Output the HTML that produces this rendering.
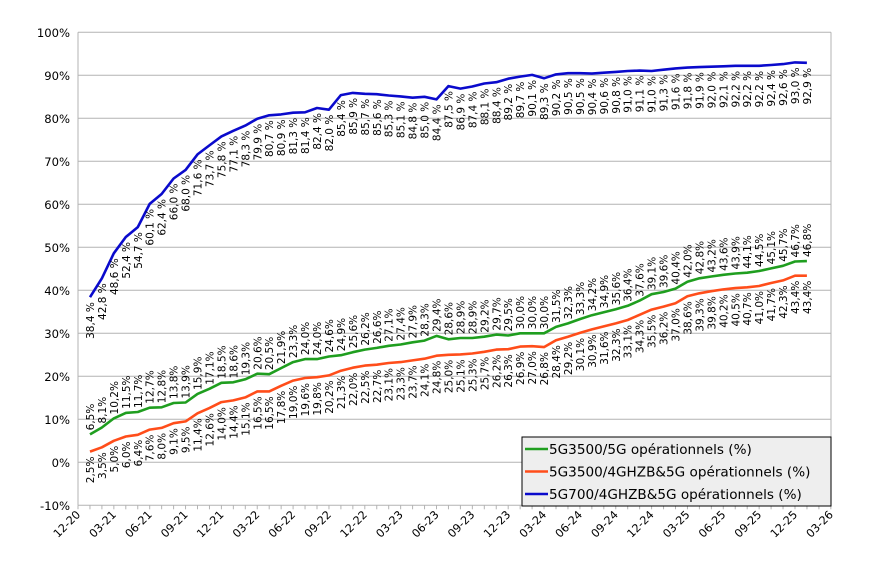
<!DOCTYPE html>
<html><head><meta charset="utf-8">
<style>html,body{margin:0;padding:0;background:#fff}svg{display:block}text{font-family:"DejaVu Sans","Liberation Sans",sans-serif}</style>
</head><body>
<svg id="c" width="874" height="572" xmlns="http://www.w3.org/2000/svg"></svg>
<script>
const B=[38.4,42.8,48.6,52.4,54.7,60.1,62.4,66.0,68.0,71.6,73.7,75.8,77.1,78.3,79.9,80.7,80.9,81.3,81.4,82.4,82.0,85.4,85.9,85.7,85.6,85.3,85.1,84.8,85.0,84.4,87.5,86.9,87.4,88.1,88.4,89.2,89.7,90.1,89.3,90.2,90.5,90.5,90.4,90.6,90.8,91.0,91.1,91.0,91.3,91.6,91.8,91.9,92.0,92.1,92.2,92.2,92.2,92.4,92.6,93.0,92.9];
const G=[6.5,8.1,10.2,11.5,11.7,12.7,12.8,13.8,13.9,15.9,17.1,18.5,18.6,19.3,20.6,20.5,21.9,23.3,24.0,24.0,24.6,24.9,25.6,26.2,26.6,27.1,27.4,27.9,28.3,29.4,28.6,28.9,28.9,29.2,29.7,29.5,30.0,30.0,30.0,31.5,32.3,33.3,34.2,34.9,35.6,36.4,37.6,39.1,39.6,40.4,42.0,42.8,43.2,43.6,43.9,44.1,44.5,45.1,45.7,46.7,46.8];
const O=[2.5,3.5,5.0,6.0,6.4,7.6,8.0,9.1,9.5,11.4,12.6,14.0,14.4,15.1,16.5,16.5,17.8,19.0,19.6,19.8,20.2,21.3,22.0,22.5,22.7,23.1,23.3,23.7,24.1,24.8,25.0,25.1,25.3,25.7,26.2,26.3,26.9,27.0,26.8,28.4,29.2,30.1,30.9,31.6,32.3,33.1,34.3,35.5,36.2,37.0,38.6,39.3,39.8,40.2,40.5,40.7,41.0,41.7,42.3,43.4,43.4];
const L=78,R=831,T=32.3,PX=11.95;
const Y=v=>462.3-v*4.3, X=i=>L+(i+1)*PX;
let s='';
for(let v=-10;v<=100;v+=10){const y=Y(v);s+=`<line x1="${L}" x2="${R}" y1="${y}" y2="${y}" stroke="#b3b3b3" stroke-width="1"/>`;
s+=`<text x="70" y="${y+4.5}" font-size="11.6" text-anchor="end" fill="#000">${v}%</text>`;}
s+=`<line x1="${L}" x2="${L}" y1="${T}" y2="${Y(-10)}" stroke="#b3b3b3"/><line x1="${R}" x2="${R}" y1="${T}" y2="${Y(-10)}" stroke="#b3b3b3"/>`;
const yb=Y(-10);
for(let m=0;m<=63;m++){const x=L+m*PX;s+=`<line x1="${x}" x2="${x}" y1="${yb}" y2="${yb+4}" stroke="#b3b3b3"/>`;
if(m%3==0){const mo=((11+m)%12)+1,yr=20+Math.floor((11+m)/12);const t=String(mo).padStart(2,'0')+'-'+yr;
s+=`<text transform="translate(${x+3},${yb+10}) rotate(-45)" font-size="11.2" text-anchor="end">${t}</text>`;}}
function line(d,c){return `<polyline fill="none" stroke="${c}" stroke-width="2.6" stroke-linejoin="round" points="${d.map((v,i)=>X(i).toFixed(1)+','+Y(v).toFixed(1)).join(' ')}"/>`;}
s+=line(G,'#1f9e1f')+line(O,'#ff4d1a')+line(B,'#0a0acc');
const f=v=>v.toFixed(1).replace('.',',');
B.forEach((v,i)=>{s+=`<text transform="translate(${X(i)+1},${Y(v)+5}) rotate(-90)" font-size="10.5" text-anchor="end" dominant-baseline="central">${f(v)} %</text>`;});
G.forEach((v,i)=>{s+=`<text transform="translate(${X(i)+1},${Y(v)-4}) rotate(-90)" font-size="10.5" text-anchor="start" dominant-baseline="central">${f(v)}%</text>`;});
O.forEach((v,i)=>{s+=`<text transform="translate(${X(i)+1},${Y(v)+5}) rotate(-90)" font-size="10.5" text-anchor="end" dominant-baseline="central">${f(v)}%</text>`;});
s+=`<rect x="522" y="437" width="309" height="69" fill="#eeeeee" stroke="#000" stroke-width="1"/>`;
[['#1f9e1f','5G3500/5G opérationnels (%)'],['#ff4d1a','5G3500/4GHZB&amp;5G opérationnels (%)'],['#0a0acc','5G700/4GHZB&amp;5G opérationnels (%)']].forEach((e,k)=>{const y=449+k*22.5;
s+=`<line x1="525" x2="548" y1="${y}" y2="${y}" stroke="${e[0]}" stroke-width="2.6"/><text x="549" y="${y+5}" font-size="13.6">${e[1]}</text>`;});
document.getElementById('c').innerHTML=s;
</script>
</body></html>
